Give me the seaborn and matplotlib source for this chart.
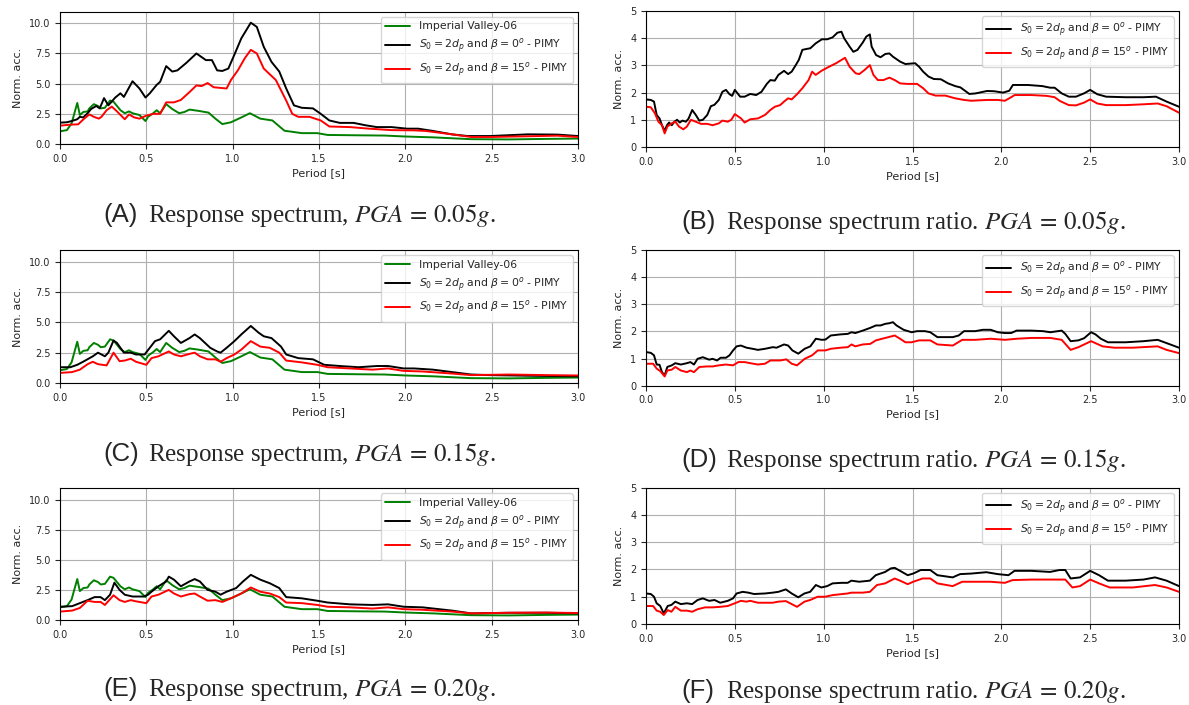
import matplotlib
matplotlib.use("Agg")
import matplotlib.pyplot as plt
import seaborn as sns

# ---------------------------------------------------------------- data
# Input motion (normalised response spectrum)
iv_T = [0.0, 0.04, 0.067, 0.1, 0.115, 0.135, 0.16, 0.17, 0.196, 0.22, 0.236, 0.26, 0.29, 0.31, 0.35,
        0.375, 0.4, 0.42, 0.46, 0.495, 0.51, 0.54, 0.56, 0.58, 0.615, 0.65, 0.69, 0.72, 0.75, 0.8,
        0.86, 0.9, 0.94, 0.99, 1.05, 1.1, 1.16, 1.23, 1.3, 1.4, 1.49, 1.55, 1.73, 1.88, 2.0,
        2.16, 2.38, 2.6, 2.8, 3.0]
iv_acc = [1.05, 1.15, 1.7, 3.4, 2.4, 2.65, 2.7, 2.95, 3.3, 3.15, 2.95, 3.0, 3.6, 3.5, 2.8,
          2.55, 2.7, 2.55, 2.4, 1.9, 2.25, 2.55, 2.8, 2.55, 3.3, 2.9, 2.55, 2.65, 2.85, 2.75,
          2.6, 2.1, 1.65, 1.8, 2.2, 2.55, 2.1, 1.95, 1.1, 0.9, 0.9, 0.75, 0.72, 0.7, 0.62,
          0.55, 0.4, 0.38, 0.42, 0.45]

# PGA = 0.05g
a0_T = [0.0, 0.04, 0.067, 0.1, 0.115, 0.135, 0.16, 0.18, 0.21, 0.23, 0.255, 0.28, 0.32, 0.35, 0.37,
        0.42, 0.46, 0.495, 0.52, 0.56, 0.58, 0.615, 0.65, 0.68, 0.73, 0.79, 0.845, 0.88, 0.91, 0.94,
        0.975, 1.01, 1.05, 1.105, 1.14, 1.18, 1.225, 1.27, 1.31, 1.355, 1.4, 1.465, 1.51, 1.56, 1.62,
        1.7, 1.77, 1.835, 1.92, 2.01, 2.075, 2.16, 2.27, 2.36, 2.49, 2.71, 2.88, 3.0]
a0_acc = [1.77, 1.8, 1.9, 2.05, 2.25, 2.2, 2.55, 2.9, 3.15, 2.95, 3.8, 3.2, 3.85, 4.2, 3.9,
          5.2, 4.6, 3.85, 4.2, 4.9, 5.15, 6.45, 6.0, 6.1, 6.7, 7.5, 6.95, 6.95, 6.1, 6.05,
          6.25, 7.4, 8.75, 10.05, 9.7, 8.05, 6.8, 6.0, 4.6, 3.2, 3.0, 2.95, 2.5, 1.95, 1.75,
          1.75, 1.55, 1.4, 1.4, 1.27, 1.27, 1.08, 0.8, 0.66, 0.66, 0.8, 0.78, 0.66]
a15_T = [0.0, 0.058, 0.105, 0.14, 0.17, 0.196, 0.225, 0.24, 0.27, 0.3, 0.33, 0.375, 0.4, 0.43, 0.46,
         0.5, 0.54, 0.58, 0.615, 0.66, 0.7, 0.75, 0.79, 0.82, 0.855, 0.89, 0.965, 0.99, 1.03, 1.07,
         1.105, 1.14, 1.18, 1.25, 1.31, 1.345, 1.38, 1.445, 1.51, 1.56, 1.68, 1.79, 1.92, 2.05, 2.12,
         2.27, 2.38, 2.49, 2.71, 2.88, 3.0]
a15_acc = [1.52, 1.6, 1.63, 2.1, 2.45, 2.25, 2.1, 2.25, 2.8, 3.1, 2.7, 2.05, 2.45, 2.2, 2.1,
           2.35, 2.5, 2.5, 3.45, 3.45, 3.65, 4.3, 4.85, 4.8, 5.05, 4.7, 4.6, 5.3, 6.1, 7.1,
           7.8, 7.5, 6.25, 5.3, 3.6, 2.5, 2.25, 2.25, 1.95, 1.45, 1.4, 1.27, 1.15, 1.13, 1.08,
           0.8, 0.58, 0.58, 0.64, 0.69, 0.58]
b0_T = [0.0, 0.027, 0.045, 0.06, 0.076, 0.09, 0.105, 0.118, 0.13, 0.145, 0.16, 0.175, 0.19, 0.205,
        0.225, 0.24, 0.26, 0.28, 0.3, 0.32, 0.345, 0.365, 0.385, 0.41, 0.43, 0.45, 0.47, 0.485, 0.5,
        0.53, 0.555, 0.587, 0.62, 0.65, 0.68, 0.7, 0.725, 0.745, 0.777, 0.8, 0.82, 0.84, 0.86, 0.88,
        0.9, 0.925, 0.955, 0.99, 1.02, 1.05, 1.077, 1.1, 1.115, 1.146, 1.167, 1.19, 1.22, 1.24, 1.26,
        1.27, 1.295, 1.32, 1.347, 1.37, 1.39, 1.43, 1.46, 1.515, 1.537, 1.56, 1.59, 1.62, 1.66, 1.7,
        1.74, 1.77, 1.82, 1.855, 1.92, 1.96, 2.01, 2.045, 2.065, 2.15, 2.23, 2.275, 2.3, 2.34, 2.38,
        2.42, 2.465, 2.5, 2.54, 2.59, 2.7, 2.8, 2.87, 2.93, 3.0]
b0_ratio = [1.75, 1.73, 1.67, 1.18, 1.05, 0.8, 0.6, 0.8, 0.9, 0.8, 0.93, 1.0, 0.9, 0.97,
            0.93, 1.05, 1.36, 1.18, 0.97, 1.0, 1.18, 1.5, 1.55, 1.73, 2.03, 2.1, 1.94, 1.88, 2.1,
            1.85, 1.85, 1.95, 1.91, 2.03, 2.32, 2.46, 2.44, 2.65, 2.8, 2.68, 2.77, 2.98, 3.2, 3.57,
            3.6, 3.63, 3.81, 3.96, 3.96, 4.03, 4.2, 4.24, 4.0, 3.69, 3.5, 3.57, 3.84, 4.06, 4.14,
            3.69, 3.38, 3.3, 3.42, 3.44, 3.32, 3.14, 3.05, 3.08, 2.95, 2.77, 2.59, 2.5, 2.49, 2.34,
            2.24, 2.19, 1.95, 1.97, 2.06, 2.05, 2.0, 2.07, 2.28, 2.28, 2.24, 2.18, 2.18, 1.97, 1.85,
            1.85, 1.97, 2.1, 1.94, 1.85, 1.83, 1.83, 1.85, 1.67, 1.48]
b15_T = [0.0, 0.027, 0.05, 0.07, 0.09, 0.105, 0.12, 0.145, 0.165, 0.186, 0.21, 0.23, 0.253, 0.28,
         0.31, 0.345, 0.375, 0.41, 0.43, 0.46, 0.48, 0.5, 0.535, 0.555, 0.587, 0.63, 0.67, 0.7, 0.725,
         0.755, 0.777, 0.8, 0.82, 0.85, 0.88, 0.915, 0.935, 0.955, 0.99, 1.03, 1.07, 1.1, 1.12, 1.146,
         1.18, 1.2, 1.23, 1.26, 1.28, 1.305, 1.336, 1.37, 1.4, 1.43, 1.47, 1.526, 1.56, 1.59, 1.63,
         1.685, 1.74, 1.79, 1.83, 1.92, 1.98, 2.02, 2.055, 2.075, 2.17, 2.255, 2.3, 2.33, 2.38, 2.42,
         2.465, 2.5, 2.54, 2.59, 2.7, 2.8, 2.88, 2.93, 3.0]
b15_ratio = [1.48, 1.46, 1.24, 0.93, 0.8, 0.5, 0.75, 0.87, 0.93, 0.75, 0.65, 0.75, 1.0, 0.93,
             0.85, 0.85, 0.8, 0.87, 0.97, 0.93, 1.0, 1.21, 1.05, 0.9, 1.02, 1.05, 1.18, 1.36, 1.48,
             1.54, 1.67, 1.79, 1.75, 1.94, 2.16, 2.46, 2.77, 2.65, 2.81, 2.95, 3.08, 3.2, 3.28, 2.95,
             2.71, 2.68, 2.83, 3.01, 2.65, 2.46, 2.46, 2.55, 2.46, 2.34, 2.32, 2.32, 2.16, 1.97, 1.89,
             1.89, 1.79, 1.73, 1.7, 1.73, 1.73, 1.7, 1.83, 1.91, 1.91, 1.88, 1.83, 1.69, 1.54, 1.53,
             1.63, 1.75, 1.6, 1.54, 1.54, 1.57, 1.6, 1.5, 1.26]

# PGA = 0.15g
c0_T = [0.0, 0.06, 0.1, 0.14, 0.19, 0.22, 0.26, 0.28, 0.31, 0.33, 0.37, 0.41, 0.44, 0.49, 0.52,
        0.55, 0.58, 0.63, 0.66, 0.7, 0.75, 0.78, 0.81, 0.87, 0.91, 0.93, 0.965, 1.01, 1.05, 1.105,
        1.15, 1.18, 1.225, 1.28, 1.31, 1.38, 1.465, 1.53, 1.62, 1.73, 1.835, 1.9, 1.99, 2.05, 2.16,
        2.27, 2.38, 2.49, 2.71, 3.0]
c0_acc = [1.3, 1.3, 1.5, 1.8, 2.2, 2.5, 2.2, 2.5, 3.5, 3.3, 2.5, 2.5, 2.35, 2.35, 2.9,
          3.45, 3.6, 4.3, 3.85, 3.3, 3.7, 4.0, 3.7, 2.9, 2.6, 2.5, 2.9, 3.45, 4.0, 4.7,
          4.15, 3.85, 3.7, 3.0, 2.35, 2.05, 1.95, 1.5, 1.4, 1.3, 1.4, 1.4, 1.2, 1.2, 1.1,
          0.9, 0.7, 0.65, 0.6, 0.55]
c15_T = [0.0, 0.07, 0.115, 0.16, 0.19, 0.22, 0.27, 0.31, 0.345, 0.375, 0.41, 0.44, 0.5, 0.53, 0.57,
         0.63, 0.66, 0.7, 0.75, 0.78, 0.81, 0.855, 0.9, 0.93, 0.965, 1.01, 1.05, 1.105, 1.16, 1.215,
         1.27, 1.31, 1.4, 1.49, 1.55, 1.68, 1.81, 1.9, 1.99, 2.1, 2.27, 2.38, 2.6, 2.82, 3.0]
c15_acc = [0.83, 0.9, 1.1, 1.55, 1.75, 1.55, 1.45, 2.5, 1.8, 1.85, 2.0, 1.75, 1.5, 2.05, 2.2,
           2.6, 2.35, 2.2, 2.4, 2.5, 2.2, 1.95, 1.95, 1.75, 2.05, 2.35, 2.75, 3.45, 3.0, 2.9,
           2.5, 1.85, 1.7, 1.5, 1.3, 1.2, 1.1, 1.2, 1.0, 0.95, 0.78, 0.65, 0.7, 0.65, 0.62]
d0_T = [0.0, 0.027, 0.045, 0.06, 0.076, 0.09, 0.105, 0.12, 0.145, 0.165, 0.196, 0.23, 0.25, 0.27,
        0.29, 0.32, 0.355, 0.375, 0.4, 0.42, 0.45, 0.47, 0.49, 0.51, 0.534, 0.566, 0.6, 0.63, 0.67,
        0.714, 0.735, 0.777, 0.8, 0.824, 0.857, 0.893, 0.925, 0.956, 0.99, 1.01, 1.04, 1.094, 1.136,
        1.157, 1.178, 1.22, 1.262, 1.294, 1.32, 1.347, 1.368, 1.39, 1.41, 1.45, 1.495, 1.526, 1.57,
        1.6, 1.64, 1.727, 1.76, 1.79, 1.853, 1.896, 1.94, 1.98, 2.02, 2.055, 2.086, 2.17, 2.234,
        2.276, 2.34, 2.36, 2.39, 2.434, 2.466, 2.505, 2.53, 2.56, 2.6, 2.7, 2.8, 2.88, 2.93, 3.0]
d0_ratio = [1.24, 1.21, 1.12, 0.78, 0.77, 0.5, 0.38, 0.69, 0.75, 0.83, 0.78, 0.83, 0.87, 0.78,
            0.99, 1.05, 0.96, 0.99, 0.93, 1.03, 1.03, 1.12, 1.3, 1.45, 1.48, 1.4, 1.36, 1.32, 1.36,
            1.42, 1.4, 1.52, 1.48, 1.3, 1.18, 1.36, 1.45, 1.73, 1.69, 1.7, 1.85, 1.89, 1.91,
            1.97, 1.94, 2.03, 2.13, 2.22, 2.22, 2.28, 2.3, 2.34, 2.22, 2.06, 1.97, 2.01, 2.01,
            1.97, 1.79, 1.79, 1.85, 2.01, 2.01, 2.06, 2.06, 1.97, 1.94, 1.94, 2.03, 2.03, 2.01,
            1.97, 2.03, 1.91, 1.64, 1.67, 1.75, 1.97, 1.89, 1.73, 1.6, 1.6, 1.64, 1.69, 1.57, 1.4]
d15_T = [0.0, 0.04, 0.06, 0.08, 0.105, 0.12, 0.145, 0.165, 0.196, 0.23, 0.25, 0.27, 0.3, 0.345,
         0.375, 0.41, 0.45, 0.49, 0.52, 0.555, 0.587, 0.63, 0.67, 0.7, 0.755, 0.79, 0.82, 0.85, 0.893,
         0.935, 0.967, 1.01, 1.04, 1.094, 1.136, 1.157, 1.178, 1.22, 1.262, 1.294, 1.347, 1.4, 1.43,
         1.46, 1.495, 1.537, 1.6, 1.64, 1.727, 1.78, 1.853, 1.94, 2.02, 2.086, 2.17, 2.276, 2.34,
         2.39, 2.434, 2.505, 2.57, 2.635, 2.74, 2.88, 2.93, 3.0]
d15_ratio = [0.81, 0.81, 0.63, 0.54, 0.34, 0.56, 0.59, 0.69, 0.56, 0.5, 0.56, 0.5, 0.69, 0.71,
             0.71, 0.75, 0.78, 0.75, 0.87, 0.87, 0.83, 0.78, 0.81, 0.93, 0.93, 0.97, 0.81, 0.75, 0.99,
             1.12, 1.3, 1.3, 1.36, 1.4, 1.42, 1.52, 1.45, 1.52, 1.54, 1.67, 1.76, 1.85, 1.73,
             1.6, 1.6, 1.67, 1.67, 1.52, 1.48, 1.69, 1.69, 1.73, 1.69, 1.73, 1.76, 1.76, 1.69,
             1.32, 1.42, 1.64, 1.45, 1.4, 1.4, 1.45, 1.32, 1.2]

# PGA = 0.20g
e0_T = [0.0, 0.07, 0.115, 0.16, 0.2, 0.235, 0.26, 0.29, 0.315, 0.345, 0.375, 0.42, 0.485, 0.51, 0.53,
        0.57, 0.615, 0.63, 0.66, 0.7, 0.75, 0.78, 0.81, 0.855, 0.9, 0.93, 0.965, 1.02, 1.06, 1.105,
        1.16, 1.215, 1.27, 1.31, 1.4, 1.49, 1.55, 1.68, 1.81, 1.9, 1.99, 2.1, 2.27, 2.38, 2.6,
        2.82, 3.0]
e0_acc = [1.1, 1.15, 1.4, 1.65, 1.9, 1.9, 1.65, 2.1, 3.1, 2.5, 2.1, 1.95, 1.95, 2.1, 2.35,
          2.8, 3.2, 3.6, 3.35, 2.8, 3.2, 3.4, 3.2, 2.5, 2.35, 2.1, 2.35, 2.65, 3.2, 3.75,
          3.35, 3.05, 2.65, 1.9, 1.8, 1.6, 1.45, 1.3, 1.25, 1.3, 1.1, 1.05, 0.78, 0.55, 0.6,
          0.6, 0.55]
e15_T = [0.0, 0.07, 0.115, 0.16, 0.2, 0.235, 0.26, 0.31, 0.345, 0.375, 0.41, 0.44, 0.5, 0.53, 0.57,
         0.63, 0.66, 0.7, 0.75, 0.78, 0.81, 0.855, 0.9, 0.94, 0.99, 1.05, 1.105, 1.16, 1.215, 1.27,
         1.31, 1.4, 1.49, 1.55, 1.68, 1.81, 1.9, 1.99, 2.1, 2.27, 2.38, 2.6, 2.82, 3.0]
e15_acc = [0.7, 0.78, 1.0, 1.6, 1.5, 1.5, 1.25, 2.05, 1.65, 1.5, 1.65, 1.55, 1.4, 1.95, 2.1,
           2.5, 2.2, 1.95, 2.15, 2.2, 1.95, 1.6, 1.65, 1.5, 1.8, 2.2, 2.7, 2.35, 2.2, 1.9,
           1.45, 1.4, 1.25, 1.1, 1.05, 0.95, 1.05, 0.9, 0.85, 0.7, 0.55, 0.6, 0.62, 0.58]
f0_T = [0.0, 0.027, 0.045, 0.06, 0.08, 0.1, 0.122, 0.143, 0.165, 0.196, 0.23, 0.26, 0.29, 0.32,
        0.355, 0.386, 0.418, 0.46, 0.49, 0.51, 0.544, 0.576, 0.608, 0.67, 0.713, 0.745, 0.787, 0.82,
        0.857, 0.892, 0.924, 0.956, 0.987, 1.02, 1.05, 1.1, 1.135, 1.156, 1.2, 1.26, 1.293, 1.346,
        1.378, 1.4, 1.43, 1.473, 1.504, 1.546, 1.6, 1.64, 1.726, 1.768, 1.83, 1.916, 1.98, 2.04,
        2.074, 2.17, 2.274, 2.327, 2.36, 2.39, 2.443, 2.5, 2.55, 2.6, 2.7, 2.8, 2.865, 2.93, 3.0]
f0_ratio = [1.12, 1.1, 1.0, 0.76, 0.66, 0.39, 0.66, 0.7, 0.82, 0.73, 0.76, 0.73, 0.88, 0.94,
            0.85, 0.88, 0.78, 0.85, 0.94, 1.12, 1.18, 1.15, 1.1, 1.12, 1.15, 1.18, 1.27, 1.12,
            0.98, 1.12, 1.18, 1.43, 1.34, 1.39, 1.49, 1.51, 1.51, 1.59, 1.55, 1.59, 1.79, 1.91,
            2.04, 2.06, 1.95, 1.79, 1.85, 1.98, 1.98, 1.79, 1.71, 1.83, 1.85, 1.9, 1.83, 1.79,
            1.95, 1.95, 1.91, 1.98, 1.98, 1.67, 1.71, 1.95, 1.79, 1.59, 1.59, 1.63, 1.71, 1.59, 1.39]
f15_T = [0.0, 0.04, 0.06, 0.08, 0.1, 0.122, 0.143, 0.165, 0.196, 0.23, 0.26, 0.29, 0.333, 0.375,
         0.418, 0.46, 0.5, 0.534, 0.565, 0.587, 0.63, 0.713, 0.745, 0.787, 0.82, 0.85, 0.892, 0.924,
         0.966, 1.008, 1.05, 1.135, 1.156, 1.22, 1.26, 1.3, 1.346, 1.4, 1.43, 1.473, 1.504, 1.557,
         1.6, 1.64, 1.726, 1.78, 1.852, 1.937, 2.02, 2.063, 2.17, 2.274, 2.36, 2.4, 2.443, 2.5,
         2.55, 2.61, 2.74, 2.865, 2.93, 3.0]
f15_ratio = [0.66, 0.66, 0.49, 0.45, 0.33, 0.51, 0.45, 0.63, 0.49, 0.49, 0.45, 0.54, 0.61, 0.61,
             0.63, 0.66, 0.76, 0.85, 0.82, 0.85, 0.78, 0.78, 0.82, 0.84, 0.73, 0.63, 0.82, 0.88,
             1.0, 1.0, 1.06, 1.12, 1.15, 1.15, 1.18, 1.43, 1.49, 1.67, 1.59, 1.46, 1.55, 1.67,
             1.67, 1.49, 1.39, 1.55, 1.55, 1.55, 1.51, 1.61, 1.63, 1.63, 1.63, 1.34, 1.39, 1.63,
             1.49, 1.34, 1.34, 1.43, 1.34, 1.18]

label_iv = "Imperial Valley-06"
label_0 = r"$S_0 = 2d_p$ and $\beta = 0^o$ - PIMY"
label_15 = r"$S_0 = 2d_p$ and $\beta = 15^o$ - PIMY"

panel_tags = ["(A)", "(B)", "(C)", "(D)", "(E)", "(F)"]
panel_captions = [
    r"Response spectrum, $PGA\,=\,0.05g$.",
    r"Response spectrum ratio. $PGA\,=\,0.05g$.",
    r"Response spectrum, $PGA\,=\,0.15g$.",
    r"Response spectrum ratio. $PGA\,=\,0.15g$.",
    r"Response spectrum, $PGA\,=\,0.20g$.",
    r"Response spectrum ratio. $PGA\,=\,0.20g$.",
]

period_ticks = [0.0, 0.5, 1.0, 1.5, 2.0, 2.5, 3.0]
spectrum_ticks = [0.0, 2.5, 5.0, 7.5, 10.0]
ratio_ticks = [0, 1, 2, 3, 4, 5]

# ---------------------------------------------------------------- style
sns.set_theme(style="ticks", rc={
    "axes.edgecolor": "black",
    "axes.linewidth": 0.8,
    "axes.grid": True,
    "grid.color": "#b0b0b0",
    "grid.linewidth": 0.8,
    "xtick.major.size": 3.5,
    "ytick.major.size": 3.5,
    "xtick.major.width": 0.8,
    "ytick.major.width": 0.8,
    "xtick.labelsize": 7,
    "ytick.labelsize": 7,
    "axes.labelsize": 8,
    "legend.fontsize": 7.8,
})
plt.rcParams["font.family"] = ["DejaVu Sans"]
plt.rcParams["mathtext.fontset"] = "dejavusans"

W, H = 1189, 705
fig = plt.figure(figsize=(W / 100, H / 100), dpi=100)


def px_box(left, top, right, bottom):
    return [left / W, 1 - bottom / H, (right - left) / W, (bottom - top) / H]


GREEN, BLACK, RED = "#008000", "black", "#ff0000"
LW = 1.4

spectrum_panels = [
    ((60, 11.7, 578, 144), [(a0_T, a0_acc), (a15_T, a15_acc)]),
    ((60, 250, 578, 383), [(c0_T, c0_acc), (c15_T, c15_acc)]),
    ((60, 488, 578, 620), [(e0_T, e0_acc), (e15_T, e15_acc)]),
]
ratio_panels = [
    ((646, 11, 1179, 147), [(b0_T, b0_ratio), (b15_T, b15_ratio)]),
    ((646, 250, 1179, 385.7), [(d0_T, d0_ratio), (d15_T, d15_ratio)]),
    ((646, 487.7, 1179, 624), [(f0_T, f0_ratio), (f15_T, f15_ratio)]),
]


def finish(ax, ymax, yticks):
    ax.set_xlim(0, 3)
    ax.set_ylim(0, ymax)
    ax.set_xticks(period_ticks)
    ax.set_yticks(yticks)
    ax.set_xlabel("Period [s]", labelpad=3)
    ax.set_ylabel("Norm. acc.", labelpad=4)
    ax.grid(True, color="#b0b0b0", linewidth=0.8)
    for s in ax.spines.values():
        s.set_visible(True)
        s.set_color("black")
    ax.legend(loc="upper right", handlelength=2.3, framealpha=0.8,
              edgecolor="#cccccc", fancybox=True)


for box, ((t0, v0), (t15, v15)) in spectrum_panels:
    ax = fig.add_axes(px_box(*box))
    sns.lineplot(x=iv_T, y=iv_acc, ax=ax, color=GREEN, linewidth=LW, label=label_iv, estimator=None)
    sns.lineplot(x=t0, y=v0, ax=ax, color=BLACK, linewidth=LW, label=label_0, estimator=None)
    sns.lineplot(x=t15, y=v15, ax=ax, color=RED, linewidth=LW, label=label_15, estimator=None)
    finish(ax, 10.96, spectrum_ticks)

for box, ((t0, v0), (t15, v15)) in ratio_panels:
    ax = fig.add_axes(px_box(*box))
    sns.lineplot(x=t0, y=v0, ax=ax, color=BLACK, linewidth=LW, label=label_0, estimator=None)
    sns.lineplot(x=t15, y=v15, ax=ax, color=RED, linewidth=LW, label=label_15, estimator=None)
    finish(ax, 5, ratio_ticks)

# sub-figure captions
caption_left = [103, 681, 103, 681, 103, 681]
caption_base = [222, 229, 461, 467, 696, 698]
for tag, text, x, y in zip(panel_tags, panel_captions, caption_left, caption_base):
    fig.text(x / W, 1 - y / H, tag, fontsize=18.5, family="Liberation Sans",
             va="baseline", ha="left")
    fig.text((x + 45) / W, 1 - y / H, text, fontsize=18, family="Liberation Serif",
             math_fontfamily="stix", va="baseline", ha="left")

fig.savefig("out.png", dpi=100)
